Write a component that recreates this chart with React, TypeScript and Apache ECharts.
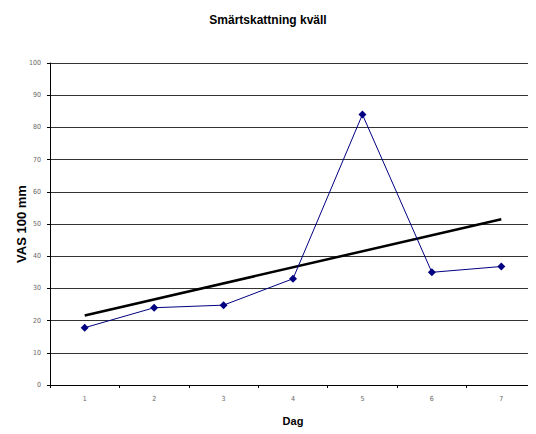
import React, { useEffect, useRef } from "react";
import * as echarts from "echarts";

const days = ["1", "2", "3", "4", "5", "6", "7"];
const vasValues = [17.8, 24, 24.8, 33, 84, 35, 36.8];
// Linear trend endpoints (day 1 and day 7)
const trendPoints: [number, number][] = [
  [0, 21.6],
  [6, 51.5],
];

export default function App() {
  const ref = useRef<HTMLDivElement>(null);
  useEffect(() => {
    if (!ref.current) return;
    const chart = echarts.init(ref.current, null, { renderer: "svg" });
    chart.setOption({
      animation: false,
      backgroundColor: "#ffffff",
      title: {
        text: "Smärtskattning kväll",
        left: "center",
        top: 9,
        textStyle: {
          fontFamily: "Liberation Sans",
          fontSize: 12,
          fontWeight: "bold",
          color: "#000",
        },
      },
      grid: {
        left: 50,
        right: 0,
        top: 63,
        bottom: 49,
        containLabel: false,
        outerBoundsMode: "none",
      },
      xAxis: {
        type: "category",
        data: days,
        boundaryGap: true,
        name: "Dag",
        nameLocation: "middle",
        nameGap: 30,
        nameMoveOverlap: false,
        nameTextStyle: {
          fontFamily: "Liberation Sans",
          fontSize: 11,
          fontWeight: "bold",
          color: "#000",
        },
        axisLine: { lineStyle: { color: "#000", width: 1 } },
        axisTick: { show: true, alignWithLabel: false, length: 3, lineStyle: { color: "#000" } },
        axisLabel: {
          fontFamily: "DejaVu Sans Condensed",
          fontSize: 7,
          color: "#666",
          margin: 10,
        },
      },
      yAxis: {
        type: "value",
        min: 0,
        max: 100,
        interval: 10,
        name: "VAS 100 mm",
        nameLocation: "middle",
        nameGap: 22,
        nameMoveOverlap: false,
        nameTextStyle: {
          fontFamily: "Liberation Sans",
          fontSize: 13,
          fontWeight: "bold",
          color: "#000",
        },
        axisLine: { show: true, lineStyle: { color: "#000", width: 1 } },
        axisTick: { show: true, length: 3, lineStyle: { color: "#000" } },
        axisLabel: {
          fontFamily: "DejaVu Sans Condensed",
          fontSize: 7,
          color: "#666",
          margin: 9,
        },
        splitLine: { show: true, lineStyle: { color: "#333", width: 1 } },
      },
      series: [
        {
          type: "line",
          data: vasValues,
          symbol: "diamond",
          symbolSize: 8,
          itemStyle: { color: "#000080" },
          lineStyle: { color: "#000080", width: 1 },
          z: 3,
        },
        {
          type: "line",
          data: trendPoints,
          symbol: "none",
          lineStyle: { color: "#000", width: 2.5 },
          z: 2,
        },
      ],
    });
    return () => chart.dispose();
  }, []);
  return <div ref={ref} style={{ width: 536, height: 434, marginLeft: -8, marginTop: -8 }} />;
}
